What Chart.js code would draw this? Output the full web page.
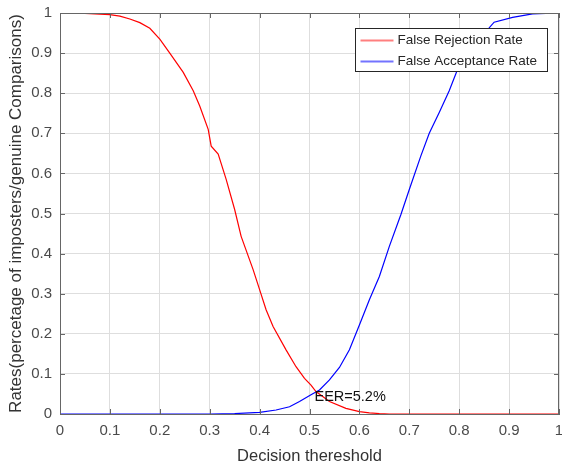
<!DOCTYPE html>
<html>
<head>
<meta charset="utf-8">
<script src="https://cdn.jsdelivr.net/npm/chart.js@4/dist/chart.umd.min.js"></script>
<style>
  html, body { margin: 0; padding: 0; background: #fff; }
  #wrap { width: 562px; height: 466px; }
</style>
</head>
<body>
<div id="wrap"><canvas id="rates" width="562" height="466"></canvas></div>
<script>
// False Rejection Rate
const frrThreshold = [0, 0.05, 0.1, 0.12, 0.14, 0.16, 0.18, 0.2, 0.22, 0.247, 0.267, 0.28, 0.297, 0.303, 0.317, 0.333, 0.35, 0.363, 0.387, 0.4, 0.413, 0.427, 0.453, 0.473, 0.49, 0.503, 0.513, 0.54, 0.573, 0.6, 0.62, 0.64, 0.66, 1];
const frrValues = [1, 0.999, 0.996, 0.992, 0.985, 0.976, 0.962, 0.935, 0.9, 0.852, 0.806, 0.768, 0.71, 0.668, 0.648, 0.585, 0.51, 0.443, 0.36, 0.31, 0.26, 0.218, 0.16, 0.118, 0.089, 0.072, 0.056, 0.031, 0.014, 0.006, 0.003, 0.001, 0, 0];

// False Acceptance Rate
const farThreshold = [0, 0.3, 0.35, 0.4, 0.433, 0.46, 0.48, 0.503, 0.52, 0.54, 0.56, 0.58, 0.6, 0.62, 0.64, 0.66, 0.683, 0.7, 0.723, 0.74, 0.76, 0.78, 0.797, 0.82, 0.84, 0.86, 0.87, 0.907, 0.947, 1];
const farValues = [0, 0, 0.001, 0.004, 0.01, 0.018, 0.031, 0.048, 0.06, 0.085, 0.116, 0.16, 0.222, 0.285, 0.343, 0.418, 0.497, 0.56, 0.643, 0.7, 0.752, 0.806, 0.86, 0.905, 0.94, 0.963, 0.977, 0.989, 0.998, 1];

// equal error rate point
const eerPoint = { x: 0.51, y: 0.052 };
const eerLabel = 'EER=5.2%';

const FONT = '"Liberation Sans", Arial, Helvetica, sans-serif';
const AXIS_COLOR = '#666';

// inward tick marks on all four sides + box around the plot (matlab style)
const boxTicks = {
  id: 'boxTicks',
  afterDraw(chart) {
    const { ctx, chartArea: a, scales } = chart;
    ctx.save();
    ctx.strokeStyle = AXIS_COLOR;
    ctx.lineWidth = 1;
    ctx.beginPath();
    scales.x.ticks.forEach(t => {
      const px = Math.round(scales.x.getPixelForValue(t.value)) + 0.5;
      ctx.moveTo(px, a.bottom); ctx.lineTo(px, a.bottom - 5);
      ctx.moveTo(px, a.top); ctx.lineTo(px, a.top + 5);
    });
    scales.y.ticks.forEach(t => {
      const py = Math.round(scales.y.getPixelForValue(t.value)) + 0.5;
      ctx.moveTo(a.left, py); ctx.lineTo(a.left + 5, py);
      ctx.moveTo(a.right, py); ctx.lineTo(a.right - 5, py);
    });
    ctx.stroke();
    ctx.strokeRect(Math.round(a.left) + 0.5, Math.round(a.top) + 0.5, Math.round(a.right - a.left) - 1, Math.round(a.bottom - a.top));
    ctx.restore();
  }
};

// legend box inside the plot, plus the EER text
const insideLegend = {
  id: 'insideLegend',
  afterDatasetsDraw(chart) {
    const { ctx, chartArea: a, scales } = chart;
    ctx.save();
    const w = 192, h = 43;
    const x0 = Math.round(a.right - 12 - w) + 0.5;
    const y0 = Math.round(a.top + 15) + 0.5;
    ctx.fillStyle = '#fff';
    ctx.fillRect(x0, y0, w, h);
    ctx.strokeStyle = '#262626';
    ctx.lineWidth = 1;
    ctx.strokeRect(x0, y0, w, h);
    ctx.font = '13.5px ' + FONT;
    ctx.textBaseline = 'middle';
    chart.data.datasets.forEach((ds, i) => {
      const ly = y0 + 12 + i * 21;
      ctx.strokeStyle = ds.legendColor;
      ctx.lineWidth = 2;
      ctx.beginPath();
      ctx.moveTo(x0 + 5, ly); ctx.lineTo(x0 + 38, ly);
      ctx.stroke();
      ctx.fillStyle = '#262626';
      ctx.fillText(ds.label, x0 + 42, ly);
    });

    ctx.font = '14.5px ' + FONT;
    ctx.fillStyle = '#111';
    ctx.textAlign = 'left';
    ctx.fillText(eerLabel, scales.x.getPixelForValue(eerPoint.x), scales.y.getPixelForValue(eerPoint.y) + 4);
    ctx.restore();
  }
};

new Chart(document.getElementById('rates').getContext('2d'), {
  type: 'line',
  data: {
    datasets: [{
      label: 'False Rejection Rate',
      data: frrThreshold.map((t, i) => ({ x: t, y: frrValues[i] })),
      borderColor: '#ff0000',
      legendColor: 'rgba(255, 0, 0, 0.5)',
      borderWidth: 1.2,
      pointRadius: 0,
      tension: 0,
      fill: false
    }, {
      label: 'False Acceptance Rate',
      data: farThreshold.map((t, i) => ({ x: t, y: farValues[i] })),
      borderColor: '#0000ff',
      legendColor: 'rgba(0, 0, 255, 0.55)',
      borderWidth: 1.2,
      pointRadius: 0,
      tension: 0,
      fill: false
    }]
  },
  options: {
    responsive: false,
    animation: false,
    devicePixelRatio: 1,
    layout: { padding: { top: 13, right: 3, left: 0, bottom: 0 } },
    plugins: {
      legend: { display: false },
      tooltip: { enabled: false }
    },
    scales: {
      x: {
        type: 'linear',
        min: 0,
        max: 1,
        afterFit: s => { s.height = 52; s.paddingLeft = 0; s.paddingRight = 0; },
        grid: { color: '#dedede', drawTicks: false },
        border: { color: AXIS_COLOR },
        ticks: {
          stepSize: 0.1,
          padding: 8,
          color: '#4a4a4a',
          font: { family: FONT, size: 15 },
          maxRotation: 0,
          callback: v => String(+v.toFixed(1))
        },
        title: {
          display: true,
          text: 'Decision thereshold',
          color: '#333',
          font: { family: FONT, size: 16.5 },
          padding: { top: 0, bottom: 0 }
        }
      },
      y: {
        min: 0,
        max: 1,
        afterFit: s => { s.width = 60; s.paddingTop = 0; s.paddingBottom = 0; },
        grid: { color: '#dedede', drawTicks: false },
        border: { color: AXIS_COLOR },
        ticks: {
          stepSize: 0.1,
          padding: 8,
          color: '#4a4a4a',
          font: { family: FONT, size: 15 },
          callback: v => String(+v.toFixed(1))
        },
        title: {
          display: true,
          text: 'Rates(percetage of imposters/genuine Comparisons)',
          color: '#333',
          font: { family: FONT, size: 17 },
          padding: { top: 6, bottom: 0 }
        }
      }
    }
  },
  plugins: [boxTicks, insideLegend]
});
</script>
</body>
</html>
